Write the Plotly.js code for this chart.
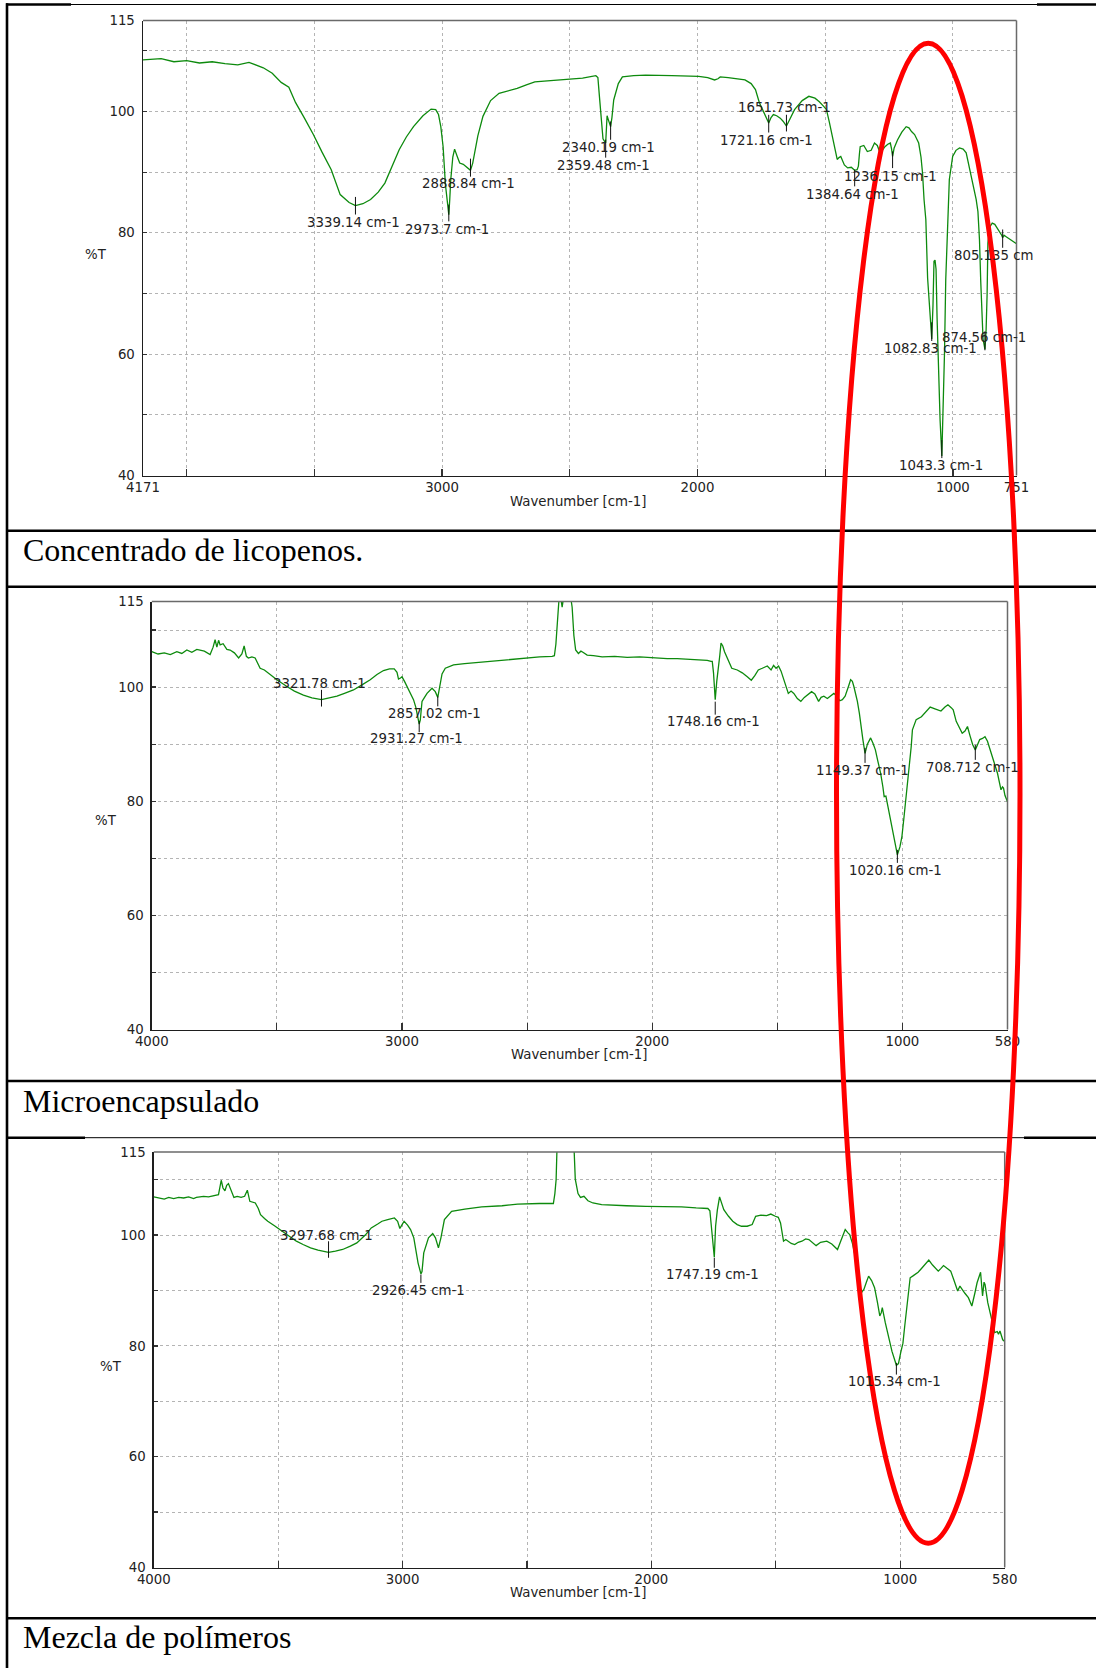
<!DOCTYPE html>
<html>
<head>
<meta charset="utf-8">
<script src="https://cdn.plot.ly/plotly-3.0.1.min.js"></script>
<style>
  html, body { margin: 0; padding: 0; background: #ffffff; }
  #chart { width: 1096px; height: 1668px; }
</style>
</head>
<body>
<div id="chart"></div>
<script>
// ---------- Concentrado de licopenos (4171 - 751 cm-1) ----------
const wn1 = [4171,4100,4050,4000,3950,3900,3850,3800,3756,3720,3700,3665,3630,3600,3574,3540,3504,3470,3434,3399,3364,3339.14,3310,3280,3250,3224,3195,3168,3140,3112,3075,3043,3025,3014,3005,2996,2987,2980,2973.7,2970,2966,2958,2951,2940,2931,2917,2905,2888.84,2880,2875,2860,2840,2810,2777,2740,2706,2670,2637,2600,2542,2509,2450,2398,2390,2384,2377,2370,2359.48,2354,2348,2340.19,2335,2328,2310,2294,2250,2203,2100,1995,1960,1933,1920,1911,1880,1814,1790,1773,1758,1745,1730,1721.16,1712,1703,1690,1676,1665,1651.73,1640,1620,1590,1564,1540,1523,1505,1495,1484,1474,1463,1453,1446,1439,1425,1412,1398,1384.64,1375,1370,1366,1363,1349,1335,1320,1307,1296,1287,1276,1266,1255,1245,1240,1236.15,1230,1217,1200,1183,1172,1162,1150,1134,1125,1119,1113,1106,1099,1090,1082.83,1078,1074,1070,1066,1062,1058,1050,1043.3,1038,1033,1028,1020,1014,1001,988,974,960,948,938,928,918,909,902,896,891,887,882,874.56,870,866,863,855,846,836,826,816,809,805.135,800,790,780,770,760,751];
const t1 = [108.5,108.7,108.2,108.4,108.0,108.2,107.9,107.7,108.1,107.5,107.2,106.3,104.8,104.0,101.5,99.0,96.2,93.3,90.4,86.3,85.0,84.5,84.8,85.5,86.7,88.2,91.0,93.7,95.8,97.5,99.3,100.4,100.3,99.5,97.5,94.2,88.0,85.0,83.0,85.5,88.8,92.5,93.8,92.5,91.5,91.3,90.8,90.3,91.5,92.6,96.0,99.2,101.8,103.0,103.4,103.8,104.4,104.9,105.0,105.2,105.2,105.5,105.9,105.6,102.5,98.5,95.5,94.8,99.3,98.5,97.5,99.0,101.9,104.6,105.7,105.9,106.0,105.9,105.8,105.6,105.2,105.4,105.7,105.6,105.2,104.6,103.6,101.5,100.3,98.8,98.1,99.0,99.5,99.3,98.9,98.4,97.6,98.6,100.3,101.8,102.5,102.2,101.6,100.8,100.3,98.3,96.4,94.0,92.1,92.4,92.6,91.2,90.7,90.8,90.3,90.4,91.0,93.0,94.2,94.4,93.4,93.6,94.8,94.4,93.4,93.6,94.2,94.6,94.8,93.8,92.6,94.0,95.3,96.6,97.5,97.3,96.7,96.2,94.8,92.5,89.9,85.5,82.2,72.5,66.0,62.5,68.0,75.3,75.5,74.0,66.0,58.6,49.0,43.2,50.0,60.0,72.3,83.0,88.8,92.6,93.6,94.0,93.8,93.2,91.2,88.8,86.8,85.5,83.5,78.9,72.0,66.8,62.5,60.8,64.0,70.0,78.3,81.0,81.6,81.4,80.8,80.0,79.6,79.2,79.6,79.3,79.0,78.8,78.5,78.2];
const peaksWn1 = [3339.14,2973.7,2888.84,2359.48,2340.19,1721.16,1651.73,1384.64,1236.15,1082.83,1043.3,874.56,805.135];
const peaksT1  = [84.5,83.0,90.3,94.8,97.5,98.1,97.6,90.3,92.6,62.5,43.2,60.8,79.2];
const xTicks1 = [4171,3000,2000,1000,751];

// ---------- Microencapsulado (4000 - 580 cm-1) ----------
const wn2 = [4000,3975,3950,3926,3900,3880,3860,3840,3820,3807,3790,3767,3755,3747,3740,3733,3727,3715,3700,3687,3670,3653,3640,3631,3622,3614,3600,3587,3567,3550,3527,3500,3460,3430,3394,3360,3321.78,3290,3260,3230,3194,3160,3127,3100,3074,3050,3031,3020,3014,3006,3000,2990,2980,2965,2954,2945,2936,2931.27,2927,2920,2910,2900,2880,2867,2857.02,2850,2840,2827,2794,2750,2700,2661,2600,2528,2450,2400,2391,2385,2378,2370,2360,2350,2330,2320,2313,2306,2295,2285,2277,2260,2235,2200,2150,2100,2050,2022,1980,1940,1900,1860,1810,1780,1765,1760,1755,1748.16,1742,1736,1730,1725,1718,1711,1700,1682,1660,1640,1620,1604,1590,1576,1560,1540,1525,1515,1505,1495,1485,1476,1466,1456,1445,1434,1420,1406,1392,1380,1363,1350,1335,1325,1314,1300,1285,1274,1262,1250,1240,1229,1215,1207,1200,1194,1180,1172,1158,1149.37,1140,1127,1118,1108,1098,1087,1078,1073,1066,1055,1045,1032,1020.16,1010,1002,993,985,978,971,965,960,945,924,905,889,870,846,830,818,805,797,785,770,761,750,740,730,719,708.712,700,691,680,670,660,648,635,620,612,606,600,596,590,585,580];
const t2 = [106.2,105.8,106.0,105.7,106.2,105.9,106.5,106.1,106.6,106.5,106.3,105.7,107.0,108.3,107.0,108.2,107.4,107.6,106.6,106.5,106.0,105.1,105.8,107.2,105.4,105.1,105.3,105.1,103.3,103.0,102.2,101.3,100.1,99.3,98.6,98.1,97.8,98.1,98.4,98.9,99.5,100.4,101.3,102.2,102.9,103.2,103.2,102.6,101.4,101.6,101.8,101.0,100.1,99.0,97.8,96.5,94.0,93.5,94.2,97.5,98.2,98.9,99.8,99.2,98.2,100.1,102.3,103.3,103.9,104.1,104.3,104.5,104.8,105.1,105.3,105.4,105.5,107.5,112.0,117.0,114.0,117.0,117.0,114.0,109.0,106.5,105.9,106.3,106.1,105.6,105.5,105.3,105.4,105.2,105.3,105.2,105.1,105.0,105.0,104.9,104.8,104.7,104.5,104.5,102.5,97.8,101.0,103.0,105.5,107.7,107.2,106.2,105.0,103.3,103.0,102.5,101.8,101.2,102.0,103.0,103.3,103.7,103.0,103.8,103.3,103.7,102.8,101.6,100.2,98.9,99.3,98.9,98.0,97.5,98.2,98.6,99.2,98.8,97.5,98.2,98.4,98.0,98.6,98.9,98.4,97.6,97.8,98.4,100.2,101.3,101.0,100.1,97.5,95.4,90.8,88.4,90.0,91.1,90.2,89.0,87.0,84.9,82.5,80.8,80.9,78.5,76.1,73.5,70.6,72.0,73.8,77.5,80.8,83.8,86.7,89.5,92.5,94.3,94.8,95.8,96.5,96.2,95.8,96.5,96.9,96.4,96.0,94.0,92.5,91.9,92.3,93.1,91.5,89.9,89.0,90.0,90.8,91.0,91.3,90.5,89.0,87.0,84.9,83.0,82.0,82.5,82.3,81.0,80.5,79.9];
const peaksWn2 = [3321.78,2931.27,2857.02,1748.16,1149.37,708.712,1020.16];
const peaksT2  = [97.8,93.5,98.2,97.8,88.4,89.0,70.6];
const xTicks2 = [4000,3000,2000,1000,580];

// ---------- Mezcla de polímeros (4000 - 580 cm-1) ----------
const wn3 = [4000,3980,3958,3940,3920,3900,3880,3860,3840,3829,3800,3780,3758,3740,3729,3722,3714,3707,3700,3690,3678,3665,3649,3635,3624,3614,3592,3580,3571,3555,3542,3515,3485,3455,3427,3400,3370,3340,3297.68,3270,3241,3210,3184,3150,3126,3100,3083,3060,3033,3020,3011,3002,2994,2980,2968,2955,2947,2938,2926.45,2922,2915,2905,2896,2879,2868,2856,2846,2832,2803,2750,2682,2600,2538,2450,2394,2388,2383,2378,2313,2306,2295,2285,2271,2255,2235,2200,2164,2100,2022,1950,1879,1820,1773,1765,1758,1747.19,1742,1735,1726,1718,1709,1690,1673,1655,1638,1615,1595,1581,1560,1537,1520,1502,1490,1481,1469,1460,1452,1438,1424,1410,1395,1380,1367,1352,1338,1320,1295,1275,1260,1252,1240,1231,1221,1210,1203,1192,1181,1170,1160,1153,1146,1136,1127,1115,1103,1092,1082,1076,1072,1060,1046,1033,1015.34,1007,998,989,982,975,968,960,950,939,928,918,900,885,870,858,847,836,826,812,797,785,769,760,752,740,726,712,700,691,677,669,663,659,648,638,628,620,610,605,599,594,588,580];
const t3 = [106.9,106.7,106.5,106.8,106.6,106.8,106.7,106.9,106.6,106.8,107.0,106.9,107.1,107.3,109.9,108.5,108.0,109.0,109.3,108.0,106.8,107.0,106.8,107.0,108.1,106.1,105.8,104.8,103.7,103.0,102.5,101.7,100.7,99.8,98.9,98.3,97.7,97.3,96.9,97.1,97.4,98.0,98.6,100.0,101.3,102.0,102.5,102.8,103.1,102.5,101.2,101.9,102.5,101.8,101.0,99.5,97.4,95.0,93.0,93.4,96.8,98.5,99.5,100.3,99.5,97.7,99.5,102.8,104.3,104.7,105.1,105.3,105.6,105.7,105.7,107.5,110.0,118.0,118.0,110.1,107.5,106.8,107.0,106.2,105.8,105.5,105.4,105.3,105.2,105.2,105.1,104.9,104.8,104.4,101.0,96.0,101.6,104.5,106.9,105.8,104.6,103.4,102.5,101.9,101.6,101.6,101.9,103.4,103.6,103.5,103.8,103.4,103.2,102.2,98.9,99.2,98.9,98.5,98.3,98.7,98.9,99.3,99.2,98.6,98.1,98.7,98.9,98.4,97.8,97.4,98.8,99.8,101.0,100.4,100.1,98.5,96.2,92.5,89.3,89.8,90.2,91.5,92.6,91.8,90.5,88.0,85.4,86.0,86.9,84.2,81.7,79.0,76.5,76.8,78.8,80.5,83.5,86.6,89.5,92.3,92.6,92.9,93.3,93.8,94.8,95.5,94.6,94.0,93.5,94.0,94.5,94.0,93.5,92.0,89.9,90.8,90.2,89.5,88.7,87.2,89.5,91.4,93.3,89.0,91.5,91.1,87.8,85.7,84.0,82.4,82.6,82.1,82.7,81.8,81.1,80.8];
const peaksWn3 = [3297.68,2926.45,1747.19,1015.34];
const peaksT3  = [96.9,93.0,96.0,76.5];
const xTicks3 = [4000,3000,2000,1000,580];

const yTicks = [40,60,80,100,115];
const captions = ['Concentrado de licopenos.', 'Microencapsulado', 'Mezcla de polímeros'];

// ---------- page geometry (px, from the top-left corner) ----------
const W = 1096, H = 1668;
const GREEN = '#0d8a0d';
const SANS = 'DejaVu Sans';
const SERIF = 'Liberation Serif';

const panels = [
  { wn: wn1, t: t1, pw: peaksWn1, pt: peaksT1, xt: xTicks1, range: [4171, 751],
    box: { l: 143, r: 1016.5, t: 20.5, b: 475.5 },
    xTitle: [578, 501.7], yTitle: [96.4, 254.3], caption: [21, 549.5],
    // label offsets (px): dx, dy (below the peak when positive), tick span [top, bottom]
    lab: [[-2,17,-8.6,9],[-2,15,-10,6.7],[-2,13.3,-11.7,6.3],[-2,22.6,-3.4,14.6],[-2.5,20.8,-5.2,13.1],
          [-2,17.5,-8.2,9.5],[-1.5,-18.6,-11.3,5.4],[-2,24.3,-0.7,16],[-2,20,-4.9,11.7],[-1,9.3,-16.7,2],
          [-1.3,9.4,-16,2],[-1,-11.7,-18,1],[-8.7,17.8,-8.2,10.1]],
    cut: { 12: 10 } },
  { wn: wn2, t: t2, pw: peaksWn2, pt: peaksT2, xt: xTicks2, range: [4000, 580],
    box: { l: 151.8, r: 1007.5, t: 601.5, b: 1029.5 },
    xTitle: [579, 1054], yTitle: [106.4, 820.7], caption: [21, 1100.5],
    lab: [[-2.2,-15.8,-9.8,6.9],[-2.8,14.6,-3,8],[-2.8,16.4,-1,9],[-2,21.9,2,15],
          [-2.1,17.3,-5.4,9.6],[-2.5,17.3,-5,10],[-1.7,16.1,-5,8]],
    cut: {} },
  { wn: wn3, t: t3, pw: peaksWn3, pt: peaksT3, xt: xTicks3, range: [4000, 580],
    box: { l: 153.8, r: 1004.7, t: 1152, b: 1567.5 },
    xTitle: [578, 1592.3], yTitle: [110.7, 1366], caption: [21, 1636.5],
    lab: [[-2.2,-16.8,-11,5.5],[-2.3,16.3,0.6,9],[-1.5,17.2,0.5,10.5],[-1.4,16.6,-2.4,9.3]],
    cut: {} }
];

const px = x => x / W;
const py = y => 1 - y / H;

const data = [];
const layout = {
  width: W, height: H,
  margin: { l: 0, r: 0, t: 0, b: 0, pad: 0 },
  paper_bgcolor: '#ffffff', plot_bgcolor: '#ffffff',
  showlegend: false,
  font: { family: SANS, size: 13.3, color: '#222222' },
  shapes: [], annotations: []
};

const gridStyle = { gridcolor: '#b4b4b4', griddash: 'dot', gridwidth: 1 };

panels.forEach((p, i) => {
  const k = i + 1;
  const xa = k === 1 ? 'x' : 'x' + k;
  const ya = k === 1 ? 'y' : 'y' + k;
  const xKey = k === 1 ? 'xaxis' : 'xaxis' + k;
  const yKey = k === 1 ? 'yaxis' : 'yaxis' + k;

  data.push({
    type: 'scatter', mode: 'lines', x: p.wn, y: p.t, xaxis: xa, yaxis: ya,
    line: { color: GREEN, width: 1.3 }, hoverinfo: 'skip'
  });

  layout[xKey] = Object.assign({
    domain: [px(p.box.l), px(p.box.r)], anchor: ya, range: p.range,
    tickmode: 'array', tickvals: p.xt, ticktext: p.xt.map(String),
    showgrid: true, zeroline: false,
    showline: true, linecolor: '#1e1e1e', linewidth: 1.5,
    ticks: 'inside', ticklen: 7, tickcolor: '#333333', tickwidth: 1.2,
    ticklabelstandoff: -1,
    tickfont: { family: SANS, size: 13.3, color: '#222222' },
    minor: { tickmode: 'linear', tick0: 0, dtick: 500, showgrid: true,
             gridcolor: '#b4b4b4', griddash: 'dot', gridwidth: 1,
             ticks: 'inside', ticklen: 7, tickcolor: '#333333', tickwidth: 1.2 },
    fixedrange: true
  }, gridStyle);

  layout[yKey] = Object.assign({
    domain: [py(p.box.b), py(p.box.t)], anchor: xa, range: [40, 115],
    tickmode: 'array', tickvals: yTicks, ticktext: yTicks.map(String),
    showgrid: true, zeroline: false,
    showline: true, linecolor: '#1e1e1e', linewidth: 1.5,
    ticks: 'inside', ticklen: 4, tickcolor: '#333333', tickwidth: 1.2,
    ticklabelstandoff: 4,
    tickfont: { family: SANS, size: 13.3, color: '#222222' },
    minor: { tickmode: 'linear', tick0: 40, dtick: 10, showgrid: true,
             gridcolor: '#b4b4b4', griddash: 'dot', gridwidth: 1,
             ticks: 'inside', ticklen: 4, tickcolor: '#333333', tickwidth: 1.2 },
    fixedrange: true
  }, gridStyle);

  // top and right frame of the plot area
  layout.shapes.push(
    { type: 'line', xref: xa + ' domain', yref: ya + ' domain', x0: 0, x1: 1, y0: 1, y1: 1,
      line: { color: '#6a6a6a', width: 1.5 }, layer: 'above' },
    { type: 'line', xref: xa + ' domain', yref: ya + ' domain', x0: 1, x1: 1, y0: 0, y1: 1,
      line: { color: '#6a6a6a', width: 1.5 }, layer: 'above' }
  );

  // peak markers and peak labels
  const unitsPerPx = 75 / (p.box.b - p.box.t);
  p.pw.forEach((w, j) => {
    const [dx, dy, tTop, tBot] = p.lab[j];
    const v = p.pt[j];
    layout.shapes.push({
      type: 'line', xref: xa, yref: ya, x0: w, x1: w,
      y0: v - tTop * unitsPerPx, y1: v - tBot * unitsPerPx,
      line: { color: '#111111', width: 1 }, layer: 'above'
    });
    let txt = String(w) + ' cm-1';
    if (p.cut[j]) txt = txt.slice(0, p.cut[j]);
    layout.annotations.push({
      xref: xa, yref: ya, x: w, y: v, text: txt, showarrow: false,
      xanchor: 'center', yanchor: 'middle', xshift: dx, yshift: -dy,
      font: { family: SANS, size: 13.3, color: '#222222' }
    });
  });

  // axis titles and the caption of the cell
  layout.annotations.push(
    { xref: 'paper', yref: 'paper', x: px(p.xTitle[0]), y: py(p.xTitle[1]), text: 'Wavenumber [cm-1]',
      showarrow: false, xanchor: 'center', yanchor: 'middle',
      font: { family: SANS, size: 13.3, color: '#222222' } },
    { xref: 'paper', yref: 'paper', x: px(p.yTitle[0]), y: py(p.yTitle[1]), text: '%T',
      showarrow: false, xanchor: 'center', yanchor: 'middle',
      font: { family: SANS, size: 13.3, color: '#222222' } },
    { xref: 'paper', yref: 'paper', x: px(p.caption[0]), y: py(p.caption[1]), text: captions[i],
      showarrow: false, xanchor: 'left', yanchor: 'middle',
      font: { family: SERIF, size: 32, color: '#000000' } }
  );
});

// table rules around the three cells
function rule(x0, x1, y, w) {
  layout.shapes.push({ type: 'line', xref: 'paper', yref: 'paper',
    x0: px(x0), x1: px(x1), y0: py(y), y1: py(y), line: { color: '#000000', width: w }, layer: 'above' });
}
rule(6, 71, 4.5, 2.6); rule(71, 1037, 4.5, 1); rule(1037, 1096, 4.5, 2.6);
rule(6, 1096, 530.7, 2.6);
rule(6, 1096, 586.7, 2.6);
rule(6, 1096, 1081, 2.6);
rule(6, 85, 1137.7, 2.6); rule(85, 1024, 1137.7, 1); rule(1024, 1096, 1137.7, 2.6);
rule(6, 1096, 1618.3, 2.6);
layout.shapes.push({ type: 'line', xref: 'paper', yref: 'paper',
  x0: px(7), x1: px(7), y0: py(3.3), y1: py(1668), line: { color: '#000000', width: 2.6 }, layer: 'above' });

// highlight ring over the fingerprint region
layout.shapes.push({ type: 'circle', xref: 'paper', yref: 'paper',
  x0: px(836.5), x1: px(1020), y0: py(1543.2), y1: py(43.2),
  line: { color: '#ff0000', width: 5 }, fillcolor: 'rgba(0,0,0,0)', layer: 'above' });

Plotly.newPlot('chart', data, layout, { staticPlot: true, displayModeBar: false });
</script>
</body>
</html>
